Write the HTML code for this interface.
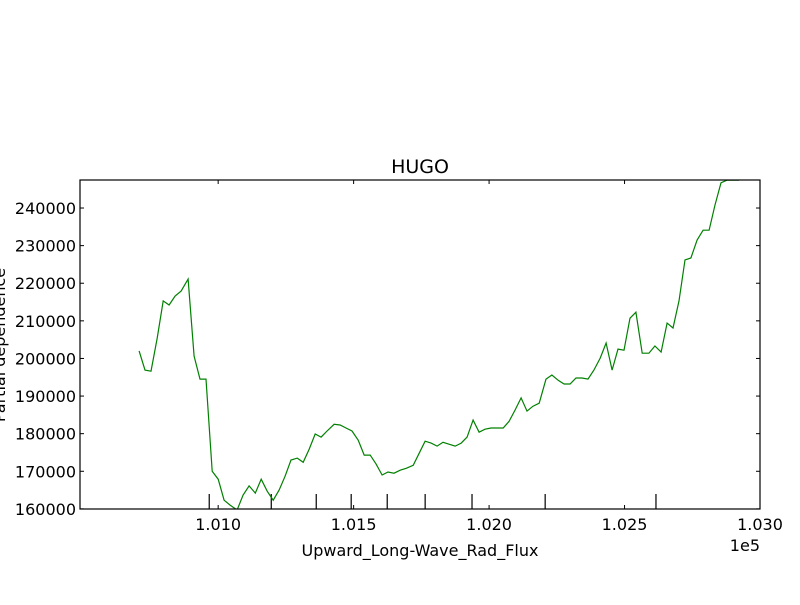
<!DOCTYPE html>
<html><head><meta charset="utf-8"><style>
body{margin:0;background:#fff}
svg text{font-family:"DejaVu Sans","Liberation Sans",sans-serif;fill:#000}
</style></head><body>
<svg id="chart" width="800" height="600" viewBox="0 0 800 600" xmlns="http://www.w3.org/2000/svg">
<rect width="800" height="600" fill="#fff"/>
<defs><clipPath id="clip"><rect x="80" y="180" width="680" height="329"/></clipPath></defs>
<g id="grid"></g>
<text x="420" y="173" font-size="19" text-anchor="middle">HUGO</text>
<text x="420" y="556" font-size="16" text-anchor="middle">Upward_Long-Wave_Rad_Flux</text>
<text x="760" y="551" font-size="16" text-anchor="end">1e5</text>
<text transform="translate(5,345) rotate(-90)" font-size="16" text-anchor="middle">Partial dependence</text>
</svg>
<script>
const xTicks=[101000,101500,102000,102500,103000];
const xTickLabels=["1.010","1.015","1.020","1.025","1.030"];
const yTicks=[160000,170000,180000,190000,200000,210000,220000,230000,240000];
const rugValues=[100967,101196,101362,101491,101624,101764,101937,102207,102616];
const xValues=[100708,100730,100752,100775,100797,100819,100841,100863,100889,100911,100933,100955,100978,101000,101022,101044,101070,101092,101114,101137,101159,101181,101203,101225,101247,101269,101292,101314,101336,101358,101380,101402,101428,101450,101472,101494,101517,101539,101561,101583,101605,101627,101649,101672,101694,101720,101742,101764,101786,101808,101830,101852,101875,101897,101919,101941,101963,101985,102007,102030,102052,102074,102096,102118,102140,102162,102185,102210,102232,102255,102277,102299,102321,102343,102365,102387,102410,102432,102454,102476,102498,102520,102542,102565,102590,102612,102635,102657,102679,102701,102723,102745,102768,102790,102812,102834,102856,102878,102900,102923];
const yValues=[202000,196900,196600,205400,215300,214200,216600,217900,221100,200600,194500,194500,170000,167900,162300,161000,159700,163700,166100,164200,167900,164700,162300,165000,168700,173000,173500,172400,175900,179900,179100,180700,182500,182300,181500,180700,178300,174300,174300,171900,169000,169800,169500,170300,170800,171600,174800,178000,177500,176700,177700,177200,176700,177500,179100,183600,180400,181200,181500,181500,181500,183300,186300,189500,186000,187300,188100,194500,195600,194200,193200,193200,194800,194800,194500,196900,200100,204100,196900,202500,202200,210700,212300,201400,201400,203300,201700,209400,208100,215300,226200,226700,231500,234100,234100,240800,246700,247400,247400,247400];
const L=80,R=760,T=180,B=509;
const xMin=100490,xMax=103000,yMin=159970,yMax=247450;
const sx=v=>L+(v-xMin)/(xMax-xMin)*(R-L);
const sy=v=>B-(v-yMin)/(yMax-yMin)*(B-T);
const svg=document.getElementById('chart');
const NS='http://www.w3.org/2000/svg';
function mk(tag,attrs){const e=document.createElementNS(NS,tag);for(const k in attrs)e.setAttribute(k,attrs[k]);svg.appendChild(e);return e;}
xTicks.forEach((v,i)=>{
 const x=sx(v);
 const t1=mk('line',{x1:x,x2:x,y1:B,y2:B-4,stroke:'#000'});
 
 
 const t2=mk('line',{x1:x,x2:x,y1:T,y2:T+4,stroke:'#000'});
 
 
 const tx=mk('text',{x:x,y:B+21,'font-size':16,'text-anchor':'middle'});
 tx.textContent=xTickLabels[i];
 
 
});
yTicks.forEach(v=>{
 const y=sy(v);
 const t1=mk('line',{x1:L,x2:L+4,y1:y,y2:y,stroke:'#000'});
 
 
 const t2=mk('line',{x1:R,x2:R-4,y1:y,y2:y,stroke:'#000'});
 
 
 const tx=mk('text',{x:L-4,y:y+6,'font-size':16,'text-anchor':'end'});
 tx.textContent=String(v);
 
 
});
rugValues.forEach(v=>{
 const x=sx(v);
 const r=mk('line',{x1:x,x2:x,y1:B,y2:B-15,stroke:'#000','stroke-width':1.2});
 
 
});
const pts=xValues.map((v,i)=>sx(v).toFixed(1)+','+sy(yValues[i]).toFixed(1)).join(' ');
const line=mk('polyline',{points:pts,fill:'none',stroke:'#008000','stroke-width':1.2,'clip-path':'url(#clip)'});


const frame=mk('rect',{x:L,y:T,width:R-L,height:B-T,fill:'none',stroke:'#000','stroke-width':1.2});


</script>
</body></html>
